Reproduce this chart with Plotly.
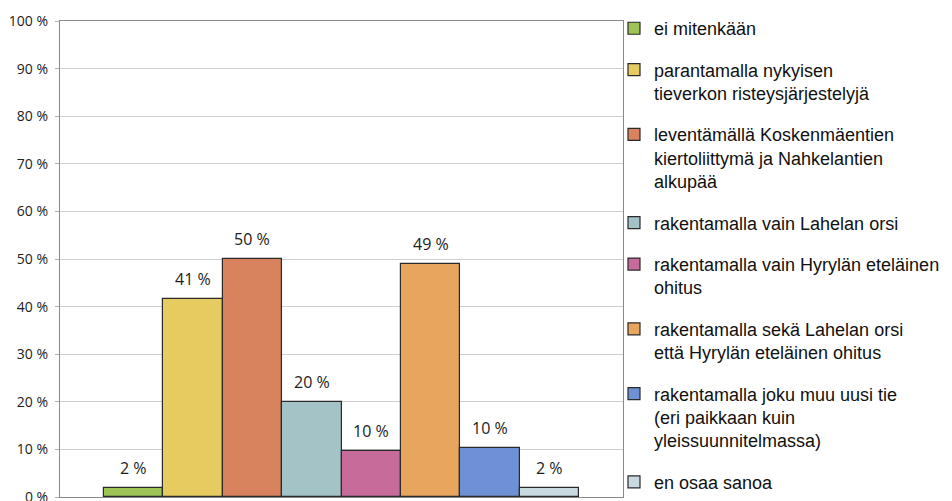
import plotly.graph_objects as go

categories = [
    "ei mitenkään",
    "parantamalla nykyisen<br>tieverkon risteysjärjestelyjä",
    "leventämällä Koskenmäentien<br>kiertoliittymä ja Nahkelantien<br>alkupää",
    "rakentamalla vain Lahelan orsi",
    "rakentamalla vain Hyrylän eteläinen<br>ohitus",
    "rakentamalla sekä Lahelan orsi<br>että Hyrylän eteläinen ohitus",
    "rakentamalla joku muu uusi tie<br>(eri paikkaan kuin<br>yleissuunnitelmassa)",
    "en osaa sanoa",
]
values = [1.9, 41.5, 50.0, 20.0, 9.6, 49.0, 10.4, 1.9]
value_labels = ["2 %", "41 %", "50 %", "20 %", "10 %", "49 %", "10 %", "2 %"]
colors = ["#9DC455", "#E5CB60", "#D9825E", "#A3C3C6",
          "#C66B9A", "#E8A55E", "#6E91D5", "#C8D9E0"]
y_ticks = list(range(0, 101, 10))
y_tick_labels = [f"{t} %" for t in y_ticks]

fig = go.Figure()
for i, (name, v, c) in enumerate(zip(categories, values, colors)):
    fig.add_trace(go.Bar(
        x=[i], y=[v], width=1, name=name,
        marker=dict(color=c, line=dict(color="#2a2a2a", width=1.2)),
        legendgroup=f"g{i}", hoverinfo="skip",
    ))
    fig.add_annotation(
        x=i, y=v, text=value_labels[i], showarrow=False,
        yanchor="middle", yshift=20,
        font=dict(family="Open Sans", size=16, color="#222"),
    )

fig.update_layout(
    width=944, height=493,
    margin=dict(l=52, r=329, t=13, b=4, autoexpand=False),
    paper_bgcolor="white", plot_bgcolor="white",
    showlegend=True,
    legend=dict(
        x=0.984, xanchor="left", y=1.023, yanchor="top",
        font=dict(family="Liberation Sans", size=18, color="#111"),
        valign="top", tracegroupgap=15, traceorder="grouped",
        maxheight=1000,
        bgcolor="rgba(0,0,0,0)", itemclick=False, itemdoubleclick=False,
    ),
    bargap=0,
)
fig.update_xaxes(
    range=[-1.24, 8.24], showticklabels=False, showgrid=False, zeroline=False,
    showline=True, linecolor="#8a8a8a", linewidth=1.2, mirror=True, fixedrange=True,
)
fig.update_yaxes(
    range=[0, 100], tickvals=y_ticks, ticktext=y_tick_labels,
    showgrid=True, gridcolor="#cfcfcf", gridwidth=1,
    zeroline=False, showline=True, linecolor="#8a8a8a", linewidth=1.2, mirror=True,
    ticks="outside", ticklen=4, tickcolor="#b0b0b0", ticklabelstandoff=4,
    ticklabeloverflow="allow",
    tickfont=dict(family="Open Sans", size=14, color="#222"), fixedrange=True,
)

fig.write_html("out.html")
